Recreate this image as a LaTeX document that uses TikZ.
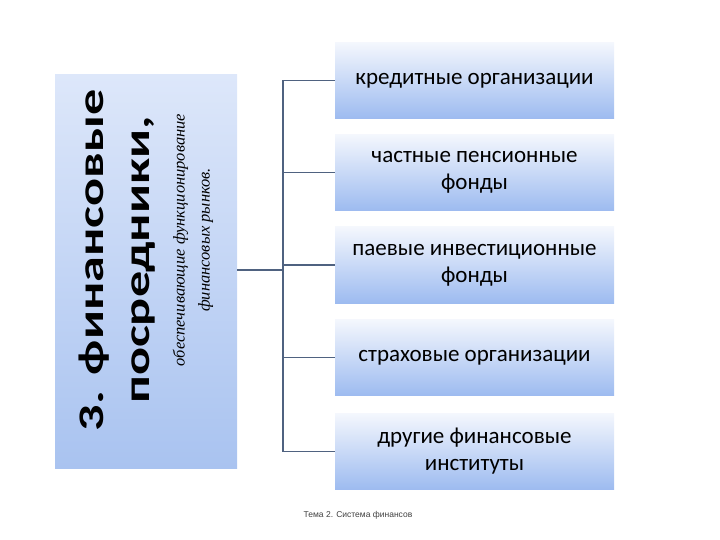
\documentclass[tikz,border=0pt]{standalone}
\usepackage{fontspec}
\setmainfont{Carlito}
\newfontfamily\serifit{Liberation Serif}
\newfontfamily\footfont{Liberation Sans}
\definecolor{lc}{HTML}{4F6280}
\definecolor{btop}{HTML}{F4F7FD}
\definecolor{bbot}{HTML}{9DBBF0}
\definecolor{ltop}{HTML}{DDE7FA}
\definecolor{lbot}{HTML}{A9C3F0}
\begin{document}
\begin{tikzpicture}[x=1pt,y=-1pt,
  rbox/.style={minimum width=279pt,minimum height=76pt,inner sep=0pt,top color=btop,bottom color=bbot,draw=none,align=center,font=\fontsize{23}{27}\selectfont},
  conn/.style={draw=lc,line width=1.3pt}]
\useasboundingbox (0,0) rectangle (720,540);
\fill[top color=ltop,bottom color=lbot] (55,75) rectangle (237,468);
\node[rotate=90,align=center,font=\fontsize{36}{46}\selectfont\bfseries] (big) at (117,260) {\scalebox{1.45}[1]{3. финансовые}\\\scalebox{1.45}[1]{посредники,}};
\node[rotate=90,align=center,font=\serifit\itshape\fontsize{16.5}{25}\selectfont] (it) at (193,240) {обеспечивающие функционирование\\финансовых рынков.};
\coordinate (L) at (237,270);
\node[rbox] (b1) at (474.5,80.5) {кредитные организации};
\node[rbox] (b2) at (474.5,172.5) {частные пенсионные\\фонды};
\node[rbox] (b3) at (474.5,265) {паевые инвестиционные\\фонды};
\node[rbox] (b4) at (474.5,357.5) {страховые организации};
\node[rbox] (b5) at (474.5,451.5) {другие финансовые\\институты};
\coordinate (T) at (283,80.5);
\coordinate (B) at (283,451.5);
\draw[conn] (b1.west) -- (T) -- (B) -- (b5.west);
\draw[conn] (L) -- (283,270);
\draw[conn] (b2.west) -- (283,172.5);
\draw[conn] (b3.west) -- (283,265);
\draw[conn] (b4.west) -- (283,357.5);
\node[font=\footfont\fontsize{8.5}{10}\selectfont,text=black!75] (f) at (358,515) {Тема 2. Система финансов};
\end{tikzpicture}
\end{document}
